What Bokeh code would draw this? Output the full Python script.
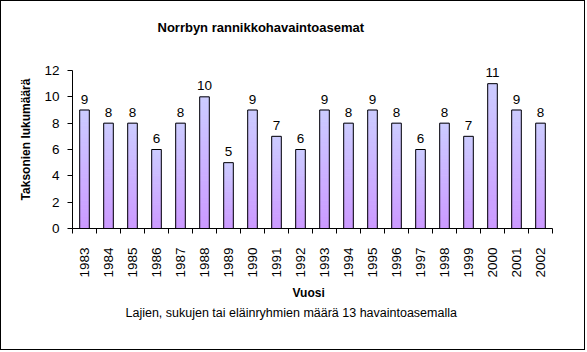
import numpy as np
from bokeh.plotting import figure
from bokeh.models import Range1d, FixedTicker, Title
from bokeh.embed import file_html
from bokeh.resources import INLINE
from bokeh.core.properties import value

years = [str(y) for y in range(1983, 2003)]
counts = [9, 8, 8, 6, 8, 10, 5, 9, 7, 6, 9, 8, 9, 8, 6, 8, 7, 11, 9, 8]
y_ticks = [0, 2, 4, 6, 8, 10, 12]
title_text = "Norrbyn rannikkohavaintoasemat"
y_title = "Taksonien lukumäärä"
x_title = "Vuosi"
caption = "Lajien, sukujen tai eläinryhmien määrä 13 havaintoasemalla"

FONT = "Liberation Sans"
n = len(years)
xc = np.arange(n) + 0.5

p = figure(width=585, height=350, output_backend="svg", toolbar_location=None,
           x_range=Range1d(0, n), y_range=Range1d(0, 13.52),
           min_border_left=71, min_border_right=34, min_border_top=49,
           min_border_bottom=123)
p.styles = {"border": "1px solid black"}
p.outline_line_color = None
p.xgrid.grid_line_color = None
p.ygrid.grid_line_color = None
p.background_fill_color = "white"
p.border_fill_color = "white"

# gradient bars built from stacked slices of each value
S = 30
top_c = np.array([204, 204, 255])
bot_c = np.array([204, 153, 255])
xs, bots, tops, cols = [], [], [], []
for i, v in enumerate(counts):
    for k in range(S):
        t = (k + 0.5) / S
        c = bot_c + (top_c - bot_c) * t
        xs.append(xc[i])
        bots.append(v * k / S)
        tops.append(v * (k + 1) / S)
        cols.append('#%02x%02x%02x' % tuple(int(round(a)) for a in c))
p.vbar(x=xs, bottom=bots, top=tops, width=0.4, fill_color=cols,
       line_color=cols, line_width=1)
p.vbar(x=xc, top=counts, width=0.4, fill_color=None, line_color="black", line_width=1)

p.text(x=xc, y=counts, text=[str(c) for c in counts], text_align="center",
       text_baseline="alphabetic", y_offset=-11, text_font=value(FONT),
       text_font_size="13.5px", text_color="black")

xa = p.xaxis[0]
xa.ticker = FixedTicker(ticks=[float(v) for v in xc], minor_ticks=list(range(n + 1)))
xa.major_label_overrides = {float(xc[i]): years[i] for i in range(n)}
xa.major_tick_out = 0
xa.major_tick_in = 0
xa.minor_tick_out = 5
xa.minor_tick_in = 0
xa.minor_tick_line_color = "black"
xa.major_label_orientation = np.pi / 2
xa.major_label_standoff = 14
xa.major_label_text_font = FONT
xa.major_label_text_font_size = "13.5px"
xa.major_label_text_color = "black"
xa.axis_line_color = "black"

ya = p.yaxis[0]
ya.ticker = FixedTicker(ticks=y_ticks, minor_ticks=[])
ya.bounds = (0, 12)
ya.major_tick_out = 5
ya.major_tick_in = 0
ya.major_tick_line_color = "black"
ya.minor_tick_out = 0
ya.minor_tick_in = 0
ya.major_label_standoff = 8
ya.major_label_text_font = FONT
ya.major_label_text_font_size = "13.5px"
ya.major_label_text_color = "black"
ya.axis_line_color = "black"
ya.axis_label = y_title
ya.axis_label_text_font = FONT
ya.axis_label_text_font_size = "12px"
ya.axis_label_text_font_style = "bold"
ya.axis_label_text_color = "black"
ya.axis_label_standoff = 8

p.add_layout(Title(text=title_text, align="left", offset=85, standoff=31,
                   text_font=FONT, text_font_size="13px", text_font_style="bold",
                   text_color="black"), "above")
p.add_layout(Title(text=x_title, align="left", offset=220, standoff=6,
                   text_font=FONT, text_font_size="12px", text_font_style="bold",
                   text_color="black"), "below")
p.add_layout(Title(text=caption, align="left", offset=53, standoff=3,
                   text_font=FONT, text_font_size="12.5px", text_font_style="normal",
                   text_color="black"), "below")

open("out.html", "w").write(file_html(p, INLINE))
